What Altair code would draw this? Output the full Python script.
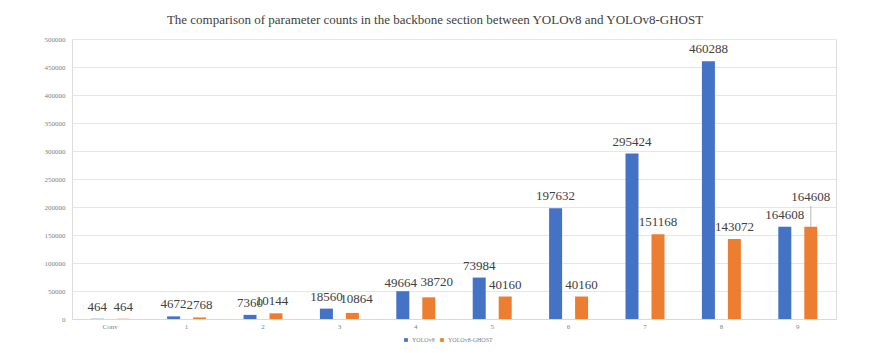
import altair as alt
import pandas as pd

categories = ["Conv", "1", "2", "3", "4", "5", "6", "7", "8", "9"]
yolov8 = [464, 4672, 7360, 18560, 49664, 73984, 197632, 295424, 460288, 164608]
yolov8_ghost = [464, 2768, 10144, 10864, 38720, 40160, 40160, 151168, 143072, 164608]
series_names = ["YOLOv8", "YOLOv8-GHOST"]
colors = ["#4472C4", "#ED7D31"]

rows = []
for c, a, b in zip(categories, yolov8, yolov8_ghost):
    rows.append({"cat": c, "series": series_names[0], "value": a})
    rows.append({"cat": c, "series": series_names[1], "value": b})
df = pd.DataFrame(rows)
df["key"] = df["cat"] + "|" + df["series"]

W, H = 764, 280
YMAX = 500000

# label nudges in pixels (dx, dy) for labels that were moved by hand in the original
nudges = {
    "2|YOLOv8-GHOST": (-4, 0),
    "3|YOLOv8-GHOST": (4, -2),
    "4|YOLOv8-GHOST": (8, -3),
    "4|YOLOv8": (-2, 4),
    "9|YOLOv8-GHOST": (0, -18),
}

x = alt.X("cat:N", sort=categories,
          scale=alt.Scale(paddingInner=0, paddingOuter=0),
          axis=alt.Axis(title=None, labelAngle=0, ticks=False, domainColor="#d9d9d9",
                        labelFont="Liberation Serif", labelFontSize=7, labelColor="#7f7f7f",
                        labelPadding=3))
xo = alt.XOffset("series:N", sort=series_names,
                 scale=alt.Scale(paddingInner=0.5, paddingOuter=0.72))
y = alt.Y("value:Q", scale=alt.Scale(domain=[0, YMAX], nice=False),
          axis=alt.Axis(title=None, values=list(range(0, YMAX + 1, 50000)), format="d",
                        ticks=False, domain=False, gridColor="#e6e6e6",
                        labelFont="Liberation Serif", labelFontSize=7, labelColor="#7f7f7f",
                        labelPadding=7))

base = alt.Chart(df)

bars = base.mark_bar(size=13).encode(
    x=x, xOffset=xo, y=y,
    color=alt.Color("series:N", sort=series_names,
                    scale=alt.Scale(domain=series_names, range=colors),
                    legend=alt.Legend(title=None, orient="none", legendX=331, legendY=298,
                                      direction="horizontal", symbolType="square",
                                      symbolSize=14, labelFont="Liberation Serif",
                                      labelFontSize=6, labelColor="#7f7f7f", labelOffset=3,
                                      columnPadding=4, symbolStrokeWidth=0)),
)

text_style = dict(font="Liberation Serif", fontSize=13, color="#404040", baseline="middle", align="center")

nudged_keys = str(list(nudges.keys())).replace("'", '"')
plain = base.transform_filter(
    "indexof(" + nudged_keys + ", datum.key) < 0"
).mark_text(dy=-12, **text_style).encode(x=x, xOffset=xo, y=y, text="value:Q")

layers = [bars, plain]
for k, (dx, dy) in nudges.items():
    layers.append(
        base.transform_filter(alt.datum.key == k)
        .mark_text(dx=dx, dy=-12 + dy, **text_style)
        .encode(x=x, xOffset=xo, y=y, text="value:Q")
    )

leader = base.transform_filter(alt.datum.key == "9|YOLOv8-GHOST").transform_calculate(
    top=alt.datum.value + 21 / H * YMAX
).mark_rule(color="#a6a6a6", strokeWidth=0.8).encode(
    x=x, xOffset=xo, y=y, y2="top:Q"
)
layers.append(leader)

chart = alt.layer(*layers).properties(
    width=W, height=H,
    title=alt.TitleParams(
        "The comparison of parameter counts in the backbone section between YOLOv8 and YOLOv8-GHOST",
        font="Liberation Serif", fontSize=13, fontWeight="normal", color="#404040",
        anchor="middle", dx=-19, offset=8),
    autosize="none",
    padding={"left": 64, "top": 31, "right": 20, "bottom": 30},
).configure_view(stroke=None).configure(background="white")

chart.save("out.html", embed_options={"renderer": "svg", "actions": False})
